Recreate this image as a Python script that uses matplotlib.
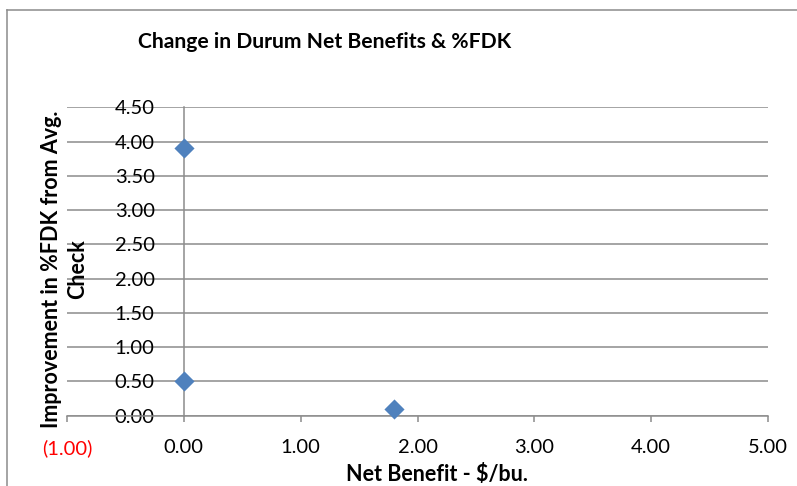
import matplotlib.pyplot as plt
from matplotlib.lines import Line2D

plt.rcParams['font.family'] = ['Lato', 'DejaVu Sans']

# net benefit ($/bu.) vs improvement in %FDK
net_benefit = [0.0, 0.0, 1.8]
fdk_improvement = [3.9, 0.5, 0.1]

x_ticks = [-1, 0, 1, 2, 3, 4, 5]
x_labels = ['(1.00)', '0.00', '1.00', '2.00', '3.00', '4.00', '5.00']
y_ticks = [0, 0.5, 1, 1.5, 2, 2.5, 3, 3.5, 4, 4.5]

grid_col = '#8c8c8c'
blue = '#4f81bd'

fig = plt.figure(figsize=(7.97, 4.86), dpi=100)
ax = fig.add_axes([0.0841, 0.1447, 0.8795, 0.6345])

ax.scatter(net_benefit, fdk_improvement, marker='D', s=105, color=blue,
           zorder=3, clip_on=False, linewidths=0)

ax.set_xlim(-1, 5)
ax.set_ylim(0, 4.5)
ax.set_xticks(x_ticks)
ax.set_xticklabels(x_labels)
ax.set_yticks(y_ticks)
ax.set_yticklabels(['%.2f' % v for v in y_ticks])
ax.get_xticklabels()[0].set_color('red')

ax.yaxis.grid(True, color=grid_col, lw=1.1)
ax.set_axisbelow(True)

for s in ['top', 'right']:
    ax.spines[s].set_visible(False)
ax.spines['left'].set_position(('data', 0))
ax.spines['left'].set_color(grid_col)
ax.spines['left'].set_linewidth(1.1)
ax.spines['bottom'].set_color(grid_col)
ax.spines['bottom'].set_linewidth(1.1)

ax.tick_params(axis='x', direction='out', length=4, width=1.1, color=grid_col,
               labelsize=14.5, pad=13)
ax.tick_params(axis='y', length=0, labelsize=14.5, pad=21)

fig.text(0.407, 0.9136, 'Change in Durum Net Benefits & %FDK', fontsize=15.2,
         fontweight='bold', ha='center', va='center')
fig.text(0.081, 0.4465, 'Improvement in %FDK from Avg.\nCheck', fontsize=15.5,
         fontweight='bold', rotation=90, ha='center', va='center',
         multialignment='center', linespacing=1.3)
fig.text(0.548, 0.024, 'Net Benefit - $/bu.', fontsize=15.5, fontweight='bold',
         ha='center', va='center')

# chart frame edges
fig.add_artist(Line2D([7 / 797, 1], [1 - 10.5 / 486] * 2, color=grid_col, lw=1.1))
fig.add_artist(Line2D([7 / 797] * 2, [0, 1 - 10.5 / 486], color=grid_col, lw=1.1))

fig.savefig('out.png', dpi=100)
